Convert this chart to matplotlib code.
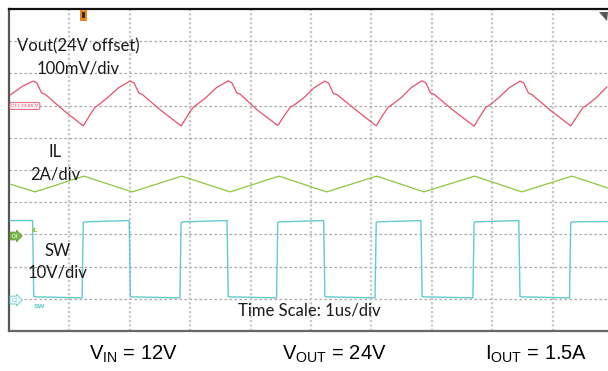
import matplotlib.pyplot as plt
from matplotlib.patches import Rectangle, Polygon
from matplotlib.transforms import blended_transform_factory

# scope traces: time in us (1 us/div), level in divisions from bottom
vout_t = [0.02, 0.23,
          0.40, 0.46, 0.54, 0.60, 0.90, 1.23, 1.34, 1.43, 1.46, 1.63, 1.81,
          2.00, 2.07, 2.15, 2.21, 2.51, 2.85, 2.96, 3.05, 3.09, 3.26, 3.43,
          3.63, 3.69, 3.77, 3.83, 4.12, 4.45, 4.57, 4.66, 4.70, 4.88, 5.05,
          5.23, 5.29, 5.37, 5.43, 5.74, 6.08, 6.19, 6.28, 6.32, 6.49, 6.66,
          6.84, 6.90, 6.98, 7.04, 7.35, 7.70, 7.81, 7.90, 7.94, 8.11, 8.28,
          8.46, 8.52, 8.60, 8.66, 8.96, 9.30, 9.42, 9.51, 9.55, 9.72, 9.90]
vout_v = [7.33, 7.61,
          7.76, 7.71, 7.39, 7.35, 6.86, 6.37, 6.71, 6.96, 6.99, 7.24, 7.55,
          7.76, 7.71, 7.39, 7.34, 6.86, 6.37, 6.70, 6.95, 7.00, 7.25, 7.55,
          7.77, 7.71, 7.40, 7.35, 6.85, 6.38, 6.72, 6.96, 6.99, 7.24, 7.55,
          7.76, 7.70, 7.38, 7.34, 6.87, 6.37, 6.71, 6.95, 7.00, 7.24, 7.56,
          7.77, 7.71, 7.39, 7.35, 6.86, 6.36, 6.70, 6.96, 6.99, 7.25, 7.55,
          7.76, 7.71, 7.39, 7.34, 6.86, 6.37, 6.71, 6.96, 6.99, 7.24, 7.58]

il_t = [0.02, 0.43, 1.24, 2.04, 2.86, 3.66, 4.47, 5.26, 6.09, 6.87, 7.71, 8.49, 9.32, 9.95]
il_v = [4.56, 4.32, 4.81, 4.32, 4.81, 4.32, 4.81, 4.32, 4.81, 4.32, 4.81, 4.32, 4.81, 4.42]

sw_t = [0.02, 0.39, 0.41, 0.44, 1.21, 1.23, 1.26, 1.99,
        2.01, 2.04, 2.83, 2.85, 2.88, 3.61,
        3.63, 3.66, 4.43, 4.45, 4.48, 5.21,
        5.23, 5.26, 6.06, 6.08, 6.11, 6.82,
        6.84, 6.87, 7.68, 7.70, 7.73, 8.44,
        8.46, 8.49, 9.28, 9.30, 9.33, 9.95]
sw_v = [3.43, 3.43, 1.08, 1.06, 1.03, 3.37, 3.39, 3.43,
        1.07, 1.06, 1.03, 3.37, 3.39, 3.43,
        1.07, 1.06, 1.03, 3.37, 3.39, 3.43,
        1.07, 1.06, 1.03, 3.37, 3.39, 3.43,
        1.07, 1.06, 1.03, 3.37, 3.39, 3.43,
        1.07, 1.06, 1.03, 3.37, 3.39, 3.40]

# channel reference levels (div)
ref_c3 = 6.99
ref_c4 = 2.95
ref_c2 = 0.96

W, H = 608, 371
def fx(x):
    return x / W
def fy(y):
    return 1 - y / H

fig = plt.figure(figsize=(6.08, 3.71), dpi=100)
ax = fig.add_axes([9 / W, 40 / H, 604 / W, 322 / H])
ax.set_xlim(0, 10)
ax.set_ylim(0, 10)
ax.set_xticks([])
ax.set_yticks([])

for i in range(1, 10):
    ax.axvline(i, color='#c8c8c8', lw=1.6, linestyle=(0, (1, 1)), zorder=1)
    ax.axhline(i, color='#a8a8a8', lw=0.9, linestyle=(0, (2, 2)), zorder=1)

ax.plot(vout_t, vout_v, color='#e8506c', lw=0.9, zorder=3)
ax.plot(il_t, il_v, color='#8dc63f', lw=0.9, zorder=3)
ax.plot(sw_t, sw_v, color='#62cace', lw=1.0, zorder=3)

ax.spines['top'].set_color('#111111')
ax.spines['top'].set_linewidth(1.6)
ax.spines['left'].set_color('#555555')
ax.spines['left'].set_linewidth(1.6)
ax.spines['bottom'].set_color('#666666')
ax.spines['bottom'].set_linewidth(1.6)
ax.spines['right'].set_visible(False)

# channel markers on the left edge
tr = blended_transform_factory(ax.transAxes, ax.transData)
ax.text(0.004, ref_c3, 'C3 | 23.85 V', transform=tr, fontsize=3.2, color='#e8506c',
        va='center', ha='left', zorder=5,
        bbox=dict(boxstyle='round,pad=0.35', fc='#fdeef1', ec='#e8506c', lw=0.6))
ax.text(0.004, ref_c4, 'C4', transform=tr, fontsize=3.5, color='white',
        va='center', ha='left', zorder=5,
        bbox=dict(boxstyle='rarrow,pad=0.3', fc='#7ab648', ec='#5a9a30', lw=0.5))
ax.text(0.004, ref_c2, 'C2', transform=tr, fontsize=3.5, color='#62cace',
        va='center', ha='left', zorder=5,
        bbox=dict(boxstyle='rarrow,pad=0.3', fc='#eef9f9', ec='#62cace', lw=0.6))
fig.text(fx(31), fy(232), 'IL', fontsize=4.5, color='#8dc63f', fontweight='bold')
fig.text(fx(33), fy(308), 'SW', fontsize=4.5, color='#62cace', fontweight='bold')

# trigger marker and top-right corner mark
fig.patches.append(Rectangle((fx(80), fy(21)), 7 / W, 11 / H, transform=fig.transFigure,
                             fc='#e8891c', ec='none'))
fig.patches.append(Rectangle((fx(82), fy(18)), 3 / W, 6 / H, transform=fig.transFigure,
                             fc='#3a2a10', ec='none'))
fig.patches.append(Polygon([(fx(599), fy(12)), (fx(608), fy(12)), (fx(607), fy(21))],
                           closed=True, transform=fig.transFigure, fc='#555555', ec='none'))

lab = dict(family='Lato', fontsize=12, color='#1a1a1a', ha='center', va='baseline')
fig.text(fx(78), fy(51), 'Vout(24V offset)', **lab)
fig.text(fx(78), fy(74), '100mV/div', **lab)
fig.text(fx(55.5), fy(157), 'IL', **lab)
fig.text(fx(55), fy(180), '2A/div', **lab)
fig.text(fx(58), fy(256), 'SW', **lab)
fig.text(fx(58), fy(278), '10V/div', **lab)
fig.text(fx(309), fy(315), 'Time Scale: 1us/div', **lab)

plt.rcParams['mathtext.fontset'] = 'custom'
plt.rcParams['mathtext.rm'] = 'Liberation Sans'
plt.rcParams['mathtext.it'] = 'Liberation Sans'
bot = dict(family='Liberation Sans', fontsize=14.5, color='black', ha='center', va='baseline')
fig.text(fx(133), fy(360), r'$\mathrm{V_{IN}}$ = 12V', **bot)
fig.text(fx(334), fy(360), r'$\mathrm{V_{OUT}}$ = 24V', **bot)
fig.text(fx(536), fy(360), r'$\mathrm{I_{OUT}}$ = 1.5A', **bot)

fig.savefig('out.png', dpi=100)
